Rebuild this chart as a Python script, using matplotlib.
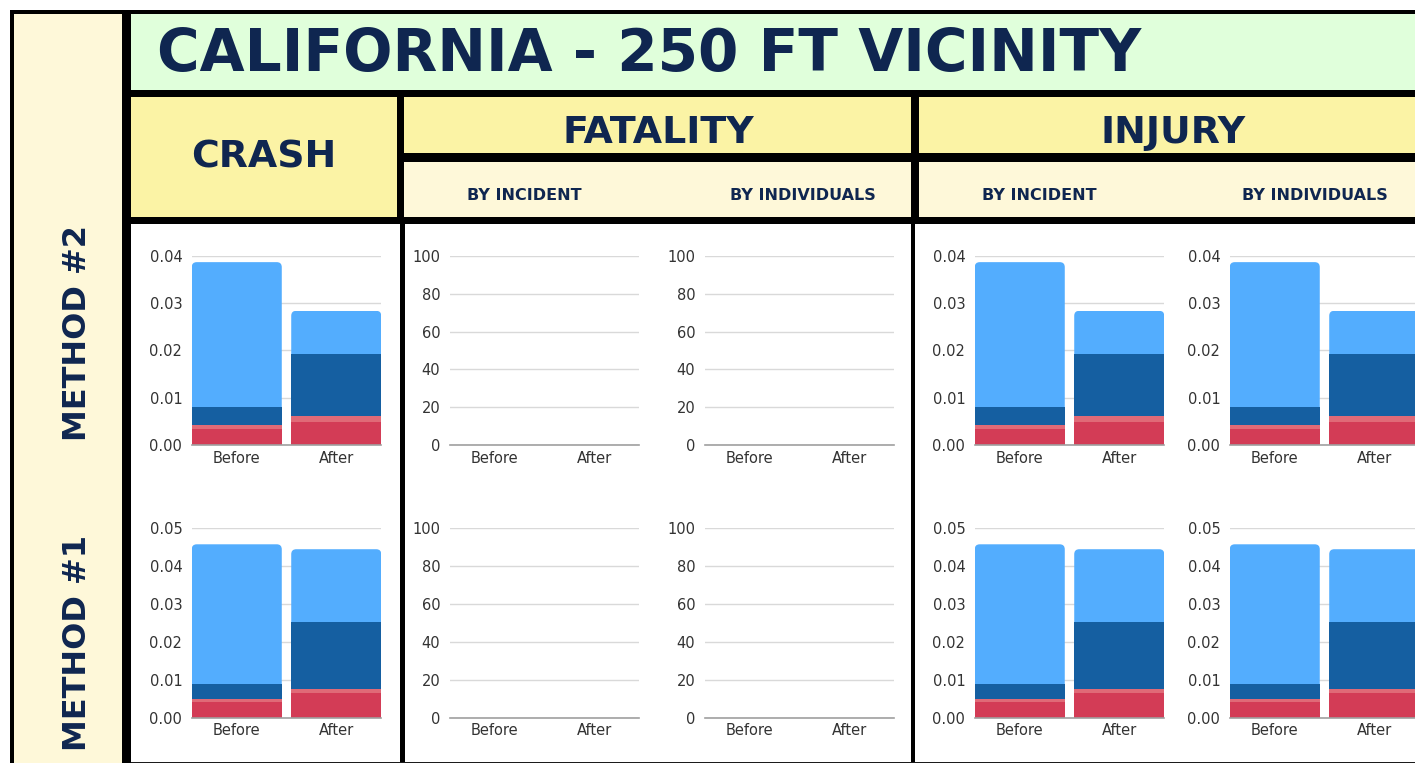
import matplotlib
matplotlib.use("Agg")
import matplotlib.pyplot as plt
from matplotlib.patches import Rectangle, FancyBboxPatch
from matplotlib.transforms import IdentityTransform
import numpy as np

# ---------------- data ----------------
title = "CALIFORNIA - 250 FT VICINITY"
row_labels = ["METHOD #2", "METHOD #1"]
categories = ["Before", "After"]
# stacked series, bottom to top
series_names = ["Fatal", "Serious", "Minor", "Possible"]
series_colors = ["#D33C56", "#E06A77", "#155FA1", "#53ADFE"]

# Method #2 (top row)
m2_fatal = [0.0034, 0.0049]
m2_serious = [0.0008, 0.0012]
m2_minor = [0.0039, 0.0131]
m2_possible = [0.0306, 0.0092]
# Method #1 (bottom row)
m1_fatal = [0.0041, 0.0065]
m1_serious = [0.0007, 0.0010]
m1_minor = [0.0041, 0.0178]
m1_possible = [0.0368, 0.0191]

m2_ticks = [0.00, 0.01, 0.02, 0.03, 0.04]
m1_ticks = [0.00, 0.01, 0.02, 0.03, 0.04, 0.05]
fat_ticks = [0, 20, 40, 60, 80, 100]

NAVY = "#0F2650"
GREEN = "#E0FFDB"
YELLOW = "#FBF3A5"
CREAM = "#FEF8D9"
TICK = "#333333"

W, H = 1415, 763
fig = plt.figure(figsize=(W / 100, H / 100), dpi=100)
fig.patch.set_facecolor("white")
plt.rcParams["font.family"] = ["DejaVu Sans"]

# background layout axes in pixel coordinates
bg = fig.add_axes([0, 0, 1, 1])
bg.set_xlim(0, W)
bg.set_ylim(H, 0)
bg.axis("off")


def rect(x0, y0, x1, y1, color):
    bg.add_patch(Rectangle((x0, y0), x1 - x0, y1 - y0, facecolor=color,
                           edgecolor="none", zorder=1))


# black frame
rect(10, 10, W, H, "black")
# left column
rect(14, 14, 122, H, CREAM)
# title band
rect(131, 14, W, 90, GREEN)
# crash header
rect(131, 97, 397, 217, YELLOW)
# fatality header + subheader
rect(404, 97, 911, 153, YELLOW)
rect(404, 162, 911, 217, CREAM)
# injury header + subheader
rect(919, 97, W, 153, YELLOW)
rect(919, 162, W, 217, CREAM)
# chart panels
rect(131, 224, 400, 762, "white")
rect(405, 224, 911, 762, "white")
rect(915, 224, W, 762, "white")
bg.plot([131, W], [762.5, 762.5], color="#8a8a8a", lw=1, zorder=2)

bg.text(157, 54, title, fontsize=41.9, fontweight="bold", color=NAVY,
        ha="left", va="center", zorder=3)
bg.text(264, 157, "CRASH", fontsize=27.3, fontweight="bold", color=NAVY,
        ha="center", va="center", zorder=3)
bg.text(658, 133, "FATALITY", fontsize=27.3, fontweight="bold", color=NAVY,
        ha="center", va="center", zorder=3)
bg.text(1173, 133, "INJURY", fontsize=27.3, fontweight="bold", color=NAVY,
        ha="center", va="center", zorder=3)
for cx, s in [(524, "BY INCIDENT"), (803, "BY INDIVIDUALS"),
              (1039, "BY INCIDENT"), (1315, "BY INDIVIDUALS")]:
    bg.text(cx, 196, s, fontsize=11.5, fontweight="bold", color=NAVY,
            ha="center", va="center", zorder=3)
bg.text(78, 333, row_labels[0], fontsize=23, fontweight="bold", color=NAVY,
        ha="center", va="center", rotation=90, zorder=3)
bg.text(78, 643, row_labels[1], fontsize=23, fontweight="bold", color=NAVY,
        ha="center", va="center", rotation=90, zorder=3)

# ---------------- chart axes ----------------
col_x = {"crash": 192, "fat_l": 450, "fat_r": 705, "inj_l": 975, "inj_r": 1230}
row_y = [(256, 445), (528, 717.5)]
PW = 189


def make_ax(x0, ytop, ybot):
    ax = fig.add_axes([x0 / W, 1 - ybot / H, PW / W, (ybot - ytop) / H])
    ax.set_facecolor("none")
    for s in ["top", "right", "left"]:
        ax.spines[s].set_visible(False)
    ax.spines["bottom"].set_color("#A0A0A0")
    ax.spines["bottom"].set_linewidth(1.2)
    ax.tick_params(length=0, labelsize=10.5, labelcolor=TICK)
    ax.tick_params(axis="y", pad=7)
    ax.tick_params(axis="x", pad=4)
    ax.grid(axis="y", color="#D9D9D9", lw=1)
    ax.set_axisbelow(True)
    ax.set_xlim(-0.45, 1.45)
    return ax


def stacked(ax, stacks, ticks, fmt):
    x = np.arange(len(categories))
    bottom = np.zeros(len(categories))
    tops = None
    for vals, col in zip(stacks, series_colors):
        tops = ax.bar(x, vals, width=0.905, bottom=bottom, color=col,
                      edgecolor="none", zorder=2)
        bottom = bottom + np.array(vals)
    ax.set_ylim(ticks[0], ticks[-1])
    ax.set_yticks(ticks)
    ax.set_yticklabels([fmt.format(t) for t in ticks])
    ax.set_xticks(x)
    ax.set_xticklabels(categories)
    # rounded top corners for the uppermost segment
    fig.canvas.draw()
    for r in tops:
        bb = r.get_window_extent()
        clip = FancyBboxPatch((bb.x0, bb.y0 - 10), bb.width, bb.height + 10,
                              boxstyle="round,pad=0,rounding_size=5",
                              transform=IdentityTransform())
        r.set_clip_path(clip)


rows = [
    ([m2_fatal, m2_serious, m2_minor, m2_possible], m2_ticks),
    ([m1_fatal, m1_serious, m1_minor, m1_possible], m1_ticks),
]

for (ytop, ybot), (stacks, ticks) in zip(row_y, rows):
    for key in ["crash", "inj_l", "inj_r"]:
        ax = make_ax(col_x[key], ytop, ybot)
        stacked(ax, stacks, ticks, "{:.2f}")
    for key in ["fat_l", "fat_r"]:
        ax = make_ax(col_x[key], ytop, ybot)
        ax.set_ylim(0, 100)
        ax.set_yticks(fat_ticks)
        ax.set_xticks(np.arange(len(categories)))
        ax.set_xticklabels(categories)

fig.savefig("out.png", dpi=100)
